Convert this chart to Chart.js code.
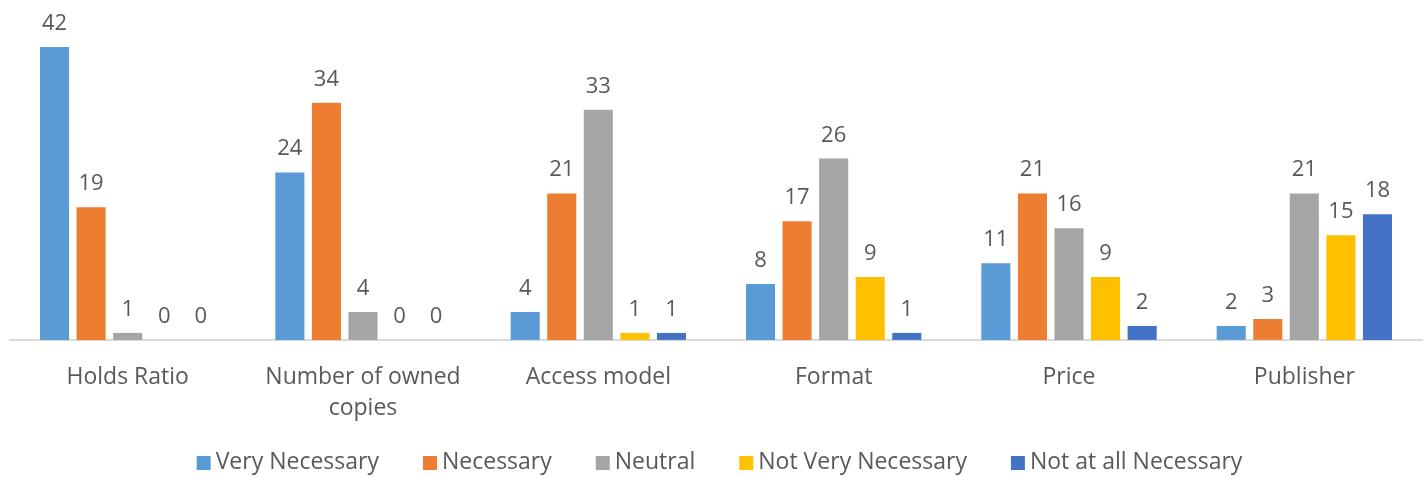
<!DOCTYPE html>
<html>
<head>
<meta charset="utf-8">
<script src="https://cdn.jsdelivr.net/npm/chart.js@4/dist/chart.umd.min.js"></script>
<style>
  html, body { margin: 0; padding: 0; background: #ffffff; }
  #wrap { width: 1425px; height: 477px; position: relative; }
</style>
</head>
<body>
<div id="wrap"><canvas id="chart"></canvas></div>
<script>
// Criteria rated by respondents
const categories = [
  "Holds Ratio",
  ["Number of owned", "copies"],
  "Access model",
  "Format",
  "Price",
  "Publisher"
];

// Response counts per rating level
const veryNecessary     = [42, 24, 4, 8, 11, 2];
const necessary         = [19, 34, 21, 17, 21, 3];
const neutral           = [1, 4, 33, 26, 16, 21];
const notVeryNecessary  = [0, 0, 1, 9, 9, 15];
const notAtAllNecessary = [0, 0, 1, 1, 2, 18];

const seriesNames = ["Very Necessary", "Necessary", "Neutral", "Not Very Necessary", "Not at all Necessary"];
const seriesColors = ["#5B9BD5", "#ED7D31", "#A5A5A5", "#FFC000", "#4472C4"];
const seriesValues = [veryNecessary, necessary, neutral, notVeryNecessary, notAtAllNecessary];

const FONT = "'Open Sans', sans-serif";
const TEXT = "#595959";

// Writes each bar's count above it
const valueLabels = {
  id: "valueLabels",
  afterDatasetsDraw(chart) {
    const ctx = chart.ctx;
    ctx.save();
    ctx.font = "22px " + FONT;
    ctx.fillStyle = TEXT;
    ctx.textAlign = "center";
    ctx.textBaseline = "alphabetic";
    chart.data.datasets.forEach((ds, i) => {
      const meta = chart.getDatasetMeta(i);
      meta.data.forEach((bar, j) => {
        ctx.fillText(String(ds.data[j]), bar.x, bar.y - 17);
      });
    });
    ctx.restore();
  }
};

// Single-row legend under the axis labels: square swatch, small gap, series name
const bottomLegend = {
  id: "bottomLegend",
  afterDraw(chart) {
    const ctx = chart.ctx;
    const box = 14, gap = 5, spacing = 44;
    const y = 462;
    ctx.save();
    ctx.font = "23px " + FONT;
    const items = chart.data.datasets.map(ds => ({
      text: ds.label,
      color: ds.backgroundColor,
      w: box + gap + ctx.measureText(ds.label).width
    }));
    const total = items.reduce((s, it) => s + it.w, 0) + spacing * (items.length - 1);
    let x = chart.width / 2 + 7 - total / 2;
    ctx.textBaseline = "middle";
    ctx.textAlign = "left";
    items.forEach(it => {
      ctx.fillStyle = it.color;
      ctx.fillRect(x, y - box / 2 + 1, box, box);
      ctx.fillStyle = TEXT;
      ctx.fillText(it.text, x + box + gap, y);
      x += it.w + spacing;
    });
    ctx.restore();
  }
};

new Chart(document.getElementById("chart"), {
  type: "bar",
  data: {
    labels: categories,
    datasets: seriesNames.map((name, i) => ({
      label: name,
      data: seriesValues[i],
      backgroundColor: seriesColors[i],
      borderWidth: 0,
      categoryPercentage: 0.777,
      barPercentage: 0.795
    }))
  },
  options: {
    responsive: true,
    maintainAspectRatio: false,
    animation: false,
    layout: { padding: { top: 12, left: 10, right: 3, bottom: 31 } },
    plugins: {
      tooltip: { enabled: false },
      legend: { display: false }
    },
    scales: {
      x: {
        grid: { display: false, drawTicks: false },
        border: { display: true, color: "#D9D9D9", width: 2 },
        ticks: {
          font: { family: FONT, size: 23, lineHeight: 1.35 },
          color: TEXT,
          padding: 22,
          maxRotation: 0,
          autoSkip: false
        }
      },
      y: {
        display: false,
        min: 0,
        max: 47
      }
    }
  },
  plugins: [valueLabels, bottomLegend]
});
</script>
</body>
</html>
